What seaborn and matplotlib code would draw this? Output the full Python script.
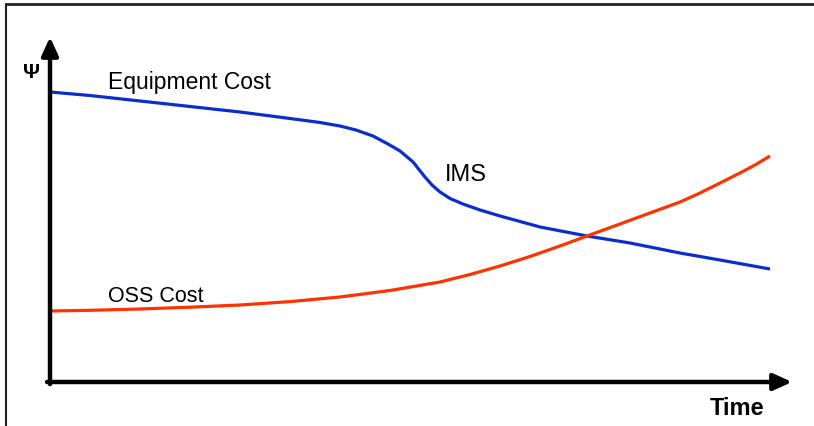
import matplotlib
matplotlib.use("Agg")
import matplotlib.pyplot as plt
from matplotlib.lines import Line2D
import seaborn as sns
import pandas as pd

# Equipment cost (falls, with a sharp drop when IMS arrives)
equip_time = [0.0, 5.56, 12.5, 19.44, 26.39, 33.33, 37.5, 40.28, 42.5, 44.86,
              46.94, 48.61, 49.44, 50.42, 51.25, 52.08, 53.06, 54.17, 55.56,
              57.36, 59.72, 62.5, 68.06, 74.58, 80.56, 87.5, 93.06, 100.0]
equip_cost = [84.06, 83.04, 81.45, 79.86, 78.26, 76.38, 75.22, 74.20, 73.04, 71.30,
              68.99, 66.96, 65.51, 63.77, 61.59, 59.42, 57.10, 55.07, 53.19,
              51.59, 49.86, 48.12, 44.93, 42.32, 40.29, 37.39, 35.36, 32.75]

# OSS cost (rises over time)
oss_time = [0.0, 5.56, 12.5, 19.44, 26.39, 33.33, 40.28, 47.22, 54.17, 58.33,
            62.5, 66.67, 70.83, 74.58, 79.17, 83.33, 87.5, 90.28, 93.06, 95.83,
            97.92, 100.0]
oss_cost = [20.58, 20.78, 21.16, 21.68, 22.32, 23.30, 24.64, 26.52, 28.99, 31.16,
            33.62, 36.38, 39.42, 42.32, 45.80, 48.99, 52.17, 54.78, 57.68, 60.58,
            62.90, 65.51]

equip_label = "Equipment Cost"
oss_label = "OSS Cost"
ims_label = "IMS"
x_label = "Time"
y_label = "\u03a8"

sns.set_theme(style="white")
plt.rcParams["font.family"] = ["Liberation Sans", "DejaVu Sans"]

W, H = 814, 427
fig = plt.figure(figsize=(W / 100, H / 100), dpi=100)
fig.patch.set_facecolor("white")

x0, x1, ytop, ybot = 50, 792, 38, 383
ax = fig.add_axes([x0 / W, 1 - ybot / H, (x1 - x0) / W, (ybot - ytop) / H])
ax.set_facecolor("white")

df_e = pd.DataFrame({"t": equip_time, "c": equip_cost})
df_o = pd.DataFrame({"t": oss_time, "c": oss_cost})
sns.lineplot(data=df_e, x="t", y="c", ax=ax, color="#0a2ecc", lw=2.3, sort=False)
sns.lineplot(data=df_o, x="t", y="c", ax=ax, color="#ff3300", lw=2.3, sort=False)
for ln in ax.lines:
    ln.set_solid_joinstyle("round")
    ln.set_solid_capstyle("butt")

ax.set_xlim(0, (x1 - x0) / 7.2)
ax.set_ylim(0, 100)
ax.set_xlabel("")
ax.set_ylabel("")
ax.set_xticks([])
ax.set_yticks([])
for s in ax.spines.values():
    s.set_visible(False)

# arrowed axes
arrow = dict(arrowstyle="-|>,head_length=0.55,head_width=0.25", lw=3.2,
             color="black", mutation_scale=20, shrinkA=0, shrinkB=0)
ax.annotate("", xy=(1, 0), xytext=(-0.004, 0), xycoords="axes fraction",
            arrowprops=arrow, annotation_clip=False)
ax.annotate("", xy=(0, 1), xytext=(0, -0.006), xycoords="axes fraction",
            arrowprops=arrow, annotation_clip=False)

# labels
ax.text(8.06, 85.2, equip_label, fontsize=16.5, va="baseline", ha="left", color="black")
ax.text(54.9, 58.55, ims_label, fontsize=17, va="baseline", ha="left", color="black")
ax.text(8.06, 23.5, oss_label, fontsize=15.5, va="baseline", ha="left", color="black")
ax.text(91.7, -9.28, x_label, fontsize=17, fontweight="bold", va="baseline",
        ha="left", color="black", clip_on=False)
ax.text(-2.5, 88.4, y_label, fontsize=15, fontweight="bold", va="baseline",
        ha="center", color="black", clip_on=False)

# frame lines along the top and left edges
fig.add_artist(Line2D([6 / W, 1], [1 - 5 / H, 1 - 5 / H], color="#222222", lw=2,
                      transform=fig.transFigure))
fig.add_artist(Line2D([6 / W, 6 / W], [0, 1 - 5 / H], color="#222222", lw=1.5,
                      transform=fig.transFigure))

fig.savefig("out.png", dpi=100, facecolor="white")
